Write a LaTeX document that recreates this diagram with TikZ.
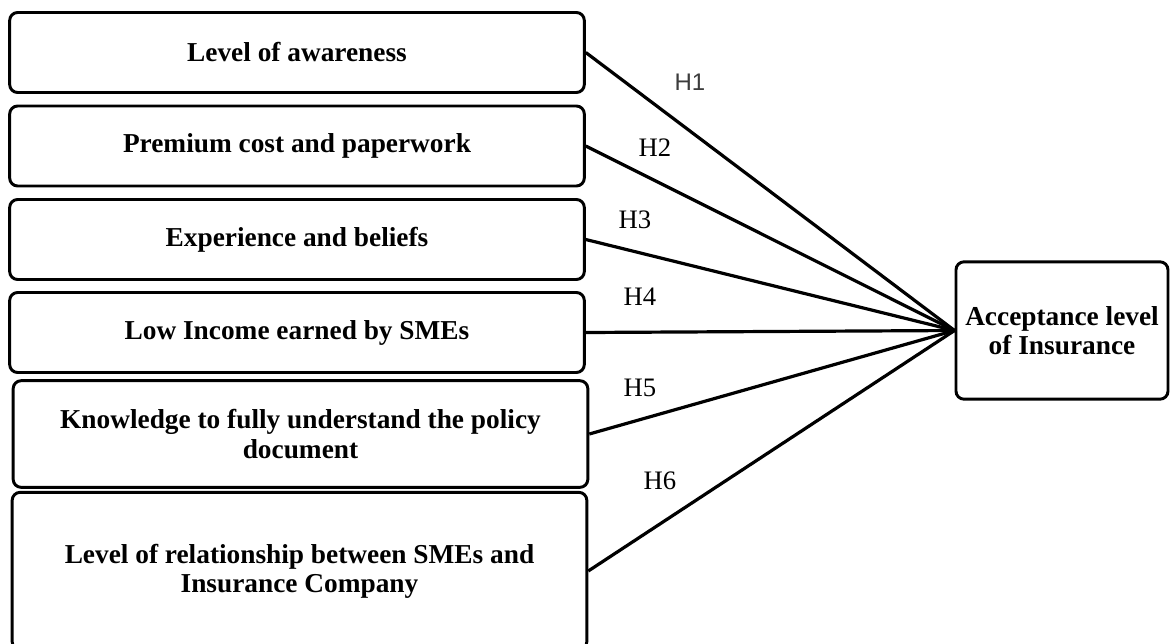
\documentclass[tikz,border=0pt]{standalone}
\usepackage{fontspec}
\setmainfont{Liberation Serif}
\newfontfamily\hsans{Liberation Sans}
\usetikzlibrary{positioning}
\definecolor{hgray}{RGB}{60,60,60}

\begin{document}
\begin{tikzpicture}[x=0.75pt,y=-0.75pt,
	factor/.style={draw,line width=2.2pt,rounded corners=6pt,minimum width=431pt,align=center,font=\fontsize{20.5}{22}\selectfont\bfseries},
	hlabel/.style={font=\fontsize{20}{22}\selectfont},
	link/.style={line width=2.4pt}]
	\useasboundingbox (0,0) rectangle (1171,643);
	\clip (0,0) rectangle (1171,643);
	
	\node [factor,minimum height=60pt] (aware) at (297,52.5) {Level of awareness};
	\node [factor,minimum height=60pt] (premium) at (297,146) {Premium cost and paperwork};
	\node [factor,minimum height=60pt] (exper) at (297,239.5) {Experience and beliefs};
	\node [factor,minimum height=60pt] (income) at (297,332.5) {Low Income earned by SMEs};
	\node [factor,minimum height=80pt] (know) at (300.5,434) {Knowledge to fully understand the policy\\document};
	\node [factor,minimum height=118pt] (relat) at (299.5,571) {Level of relationship between SMEs and\\Insurance Company};
	
	\node [factor,minimum width=159pt,minimum height=103pt] (accept) at (1062,330.5) {Acceptance level\\of Insurance};
	
	%hypothesis paths
	\draw[link] (aware.east)--(accept.west);
	\draw[link] (premium.east)--(accept.west);
	\draw[link] (exper.east)--(accept.west);
	\draw[link] (income.east)--(accept.west);
	\draw[link] (know.east)--(accept.west);
	\draw[link] (relat.east)--(accept.west);
	
	\node [hlabel,font=\fontsize{18}{20}\hsans,text=hgray] (h1) at (690,82) {H1};
	\node [hlabel] (h2) at (655,148) {H2};
	\node [hlabel] (h3) at (635,220) {H3};
	\node [hlabel] (h4) at (640,297) {H4};
	\node [hlabel] (h5) at (640,388) {H5};
	\node [hlabel] (h6) at (660,481) {H6};
	
\end{tikzpicture}
\end{document}
